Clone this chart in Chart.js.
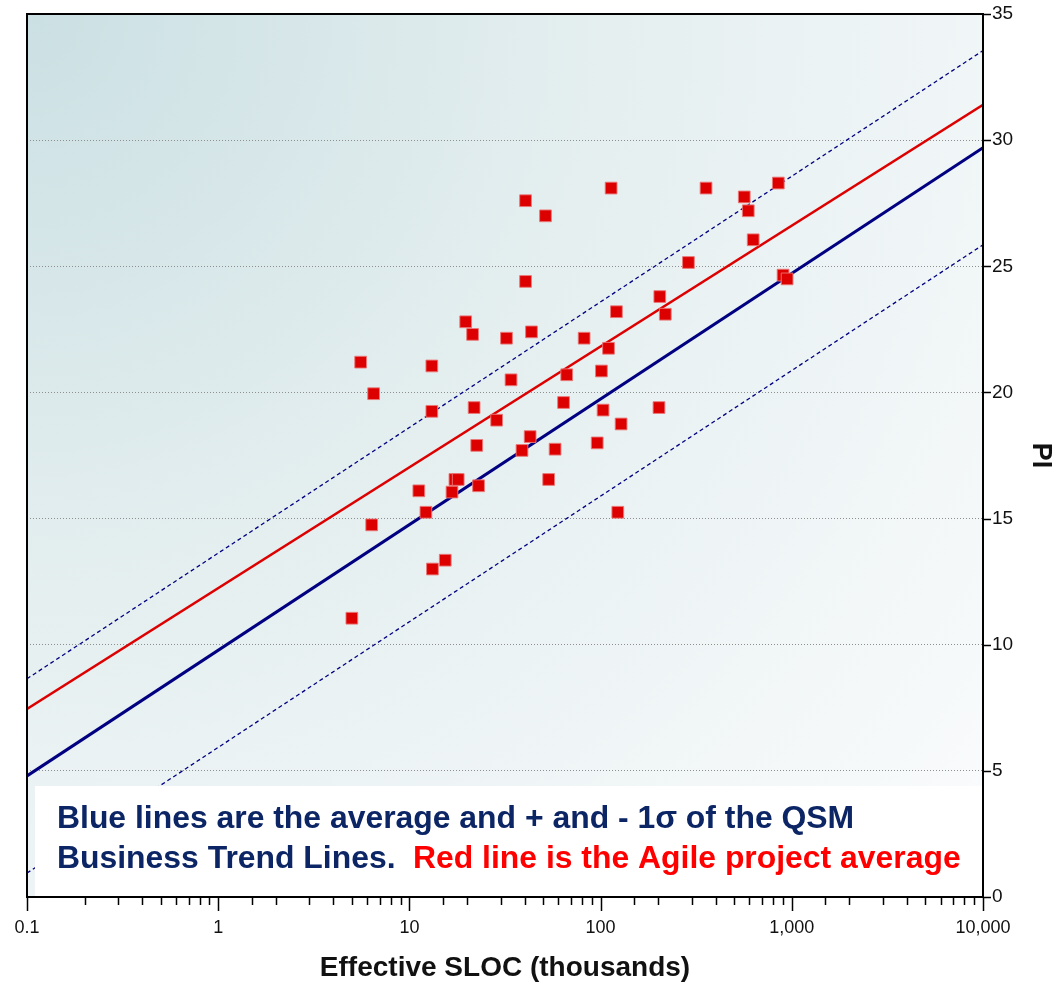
<!DOCTYPE html>
<html>
<head>
<meta charset="utf-8">
<script src="https://cdn.jsdelivr.net/npm/chart.js@4"></script>
<style>
  html, body { margin: 0; padding: 0; background: #fff; }
  #wrap { width: 1057px; height: 982px; }
</style>
</head>
<body>
<div id="wrap"><canvas id="piChart" width="1057" height="982"></canvas></div>
<script>
// project size (thousands of effective SLOC) and productivity index
var projSloc = [5.56, 6.5, 6.35, 5.0, 13.1, 13.1, 13.2, 15.4, 11.2, 12.2,
    16.7, 17.3, 18.0, 19.7, 21.4, 21.8, 22.5, 23.0, 28.6, 32.2,
    34.0, 40.5, 51.5, 40.5, 43.5, 42.8, 38.8, 57.8, 53.5, 64.0,
    66.5, 82.0, 96.0, 101, 103, 110, 113.5, 121, 123, 128,
    204, 218, 202, 288, 356, 564, 592, 628, 850, 900, 945];
var projPI = [21.2, 19.95, 14.75, 11.05, 21.05, 19.25, 13.0, 13.35, 16.1, 15.25,
    16.05, 16.55, 16.55, 22.8, 22.3, 19.4, 17.9, 16.3, 18.9, 22.15,
    20.5, 27.6, 27.0, 24.4, 22.4, 18.25, 17.7, 17.75, 16.55, 19.6,
    20.7, 22.15, 18.0, 20.85, 19.3, 21.75, 28.1, 23.2, 15.25, 18.75,
    23.8, 23.1, 19.4, 25.15, 28.1, 27.75, 27.2, 26.05, 28.3, 24.65, 24.5];

// trend line end points
var trendSloc = [0.1, 10000];
var qsmAvg = [4.8, 29.7];
var qsmPlus1 = [8.65, 33.55];
var qsmMinus1 = [0.95, 25.85];
var agileAvg = [7.45, 31.4];

var xTickVals = [0.1, 1, 10, 100, 1000, 10000];
var yTicks = [0, 5, 10, 15, 20, 25, 30, 35];

function pts(xs, ys) {
    var out = [];
    for (var i = 0; i < xs.length; i++) out.push({ x: xs[i], y: ys[i] });
    return out;
}
function isDecade(v) {
    var l = Math.log10(v);
    return Math.abs(l - Math.round(l)) < 1e-6;
}

var NAVY = '#000080';
var FONT = "'Liberation Sans', Arial, sans-serif";

var plotDecor = {
    id: 'plotDecor',
    beforeDraw: function (chart) {
        var a = chart.chartArea, c = chart.ctx;
        var g = c.createRadialGradient(a.left, a.top, 0, a.left, a.top, 1300);
        g.addColorStop(0, '#cbe0e3');
        g.addColorStop(0.45, '#e5eff0');
        g.addColorStop(1, '#fbfcfd');
        c.save();
        c.fillStyle = g;
        c.fillRect(a.left, a.top, a.right - a.left, a.bottom - a.top);
        c.restore();
    },
    afterDatasetsDraw: function (chart) {
        var a = chart.chartArea, c = chart.ctx;
        c.save();
        c.fillStyle = '#ffffff';
        c.fillRect(35, 786, a.right - 35, a.bottom - 786);
        var line1 = 'Blue lines are the average and + and - 1\u03c3 of the QSM';
        c.font = 'bold 28px ' + FONT;
        var size = 28 * 798 / c.measureText(line1).width;
        c.font = 'bold ' + size.toFixed(1) + 'px ' + FONT;
        c.textBaseline = 'alphabetic';
        c.textAlign = 'left';
        c.fillStyle = '#0c2565';
        c.fillText(line1, 57, 828);
        c.fillText('Business Trend Lines.', 57, 868);
        c.fillStyle = '#ff0000';
        c.fillText('Red line is the Agile project average', 413, 868);
        c.restore();
    },
    afterDraw: function (chart) {
        var a = chart.chartArea, c = chart.ctx;
        var xs = chart.scales.x, ys = chart.scales.y;
        c.save();
        c.strokeStyle = '#000';
        c.lineWidth = 2;
        c.strokeRect(a.left, a.top, a.right - a.left, a.bottom - a.top);
        c.lineWidth = 1.5;
        c.beginPath();
        xs.ticks.forEach(function (t) {
            var px = Math.round(xs.getPixelForValue(t.value)) + 0.5;
            var len = isDecade(t.value) ? 14 : 8;
            c.moveTo(px, a.bottom);
            c.lineTo(px, a.bottom + len);
        });
        ys.ticks.forEach(function (t) {
            var py = Math.round(ys.getPixelForValue(t.value)) + 0.5;
            c.moveTo(a.right, py);
            c.lineTo(a.right + 8, py);
        });
        c.stroke();
        c.restore();
    }
};

var piChart = new Chart(document.getElementById('piChart').getContext('2d'), {
    type: 'scatter',
    data: {
        datasets: [
            {
                label: 'Agile projects',
                data: pts(projSloc, projPI),
                pointStyle: 'rect',
                pointRadius: 8.3,
                pointHoverRadius: 8.3,
                backgroundColor: '#dd0000',
                borderColor: 'rgba(235,120,120,0.9)',
                borderWidth: 1,
                order: 0
            },
            {
                label: 'QSM average',
                data: pts(trendSloc, qsmAvg),
                showLine: true,
                borderColor: NAVY,
                borderWidth: 3,
                pointRadius: 0,
                order: 2
            },
            {
                label: 'QSM +1 sigma',
                data: pts(trendSloc, qsmPlus1),
                showLine: true,
                borderColor: NAVY,
                borderWidth: 1.3,
                borderDash: [4, 3],
                pointRadius: 0,
                order: 2
            },
            {
                label: 'QSM -1 sigma',
                data: pts(trendSloc, qsmMinus1),
                showLine: true,
                borderColor: NAVY,
                borderWidth: 1.3,
                borderDash: [4, 3],
                pointRadius: 0,
                order: 2
            },
            {
                label: 'Agile average',
                data: pts(trendSloc, agileAvg),
                showLine: true,
                borderColor: '#dd0000',
                borderWidth: 2.5,
                pointRadius: 0,
                order: 1
            }
        ]
    },
    options: {
        responsive: false,
        devicePixelRatio: 1,
        animation: false,
        layout: { padding: { left: 27, top: 14, right: 0, bottom: 0 } },
        plugins: {
            legend: { display: false },
            tooltip: { enabled: false }
        },
        scales: {
            x: {
                type: 'logarithmic',
                position: 'bottom',
                min: 0.1,
                max: 10000,
                border: { display: false },
                grid: { display: false, drawTicks: false },
                ticks: {
                    autoSkip: false,
                    maxRotation: 0,
                    padding: 20,
                    color: '#111',
                    font: { family: FONT, size: 18 },
                    callback: function (v) {
                        var hit = xTickVals.some(function (t) { return Math.abs(t - v) < 1e-9; });
                        if (!hit) return '';
                        return Number(v) < 1 ? '0.1' : Number(v).toLocaleString('en-US');
                    }
                },
                title: {
                    display: true,
                    text: 'Effective SLOC (thousands)',
                    color: '#111',
                    font: { family: FONT, size: 28, weight: 'bold' },
                    padding: { top: 0, bottom: -3 }
                },
                afterFit: function (s) {
                    s.height = 85;
                    s.paddingLeft = 0;
                    s.paddingRight = 0;
                }
            },
            y: {
                position: 'right',
                min: 0,
                max: 35,
                border: { display: false, dash: [1, 2] },
                grid: {
                    drawTicks: false,
                    color: function (ctx) {
                        var v = ctx.tick ? ctx.tick.value : null;
                        return (v === 0 || v === 35) ? 'rgba(0,0,0,0)' : '#8f8f8f';
                    },
                    lineWidth: 1
                },
                afterBuildTicks: function (s) {
                    s.ticks = yTicks.map(function (v) { return { value: v }; });
                },
                ticks: {
                    padding: 9,
                    color: '#111',
                    font: { family: FONT, size: 19 }
                },
                title: {
                    display: true,
                    text: 'PI',
                    color: '#111',
                    font: { family: FONT, size: 27, weight: 'bold' },
                    padding: { top: 0, bottom: 0 }
                },
                afterFit: function (s) {
                    s.width = 74;
                    s.paddingTop = 0;
                    s.paddingBottom = 0;
                }
            }
        }
    },
    plugins: [plotDecor]
});
</script>
</body>
</html>
